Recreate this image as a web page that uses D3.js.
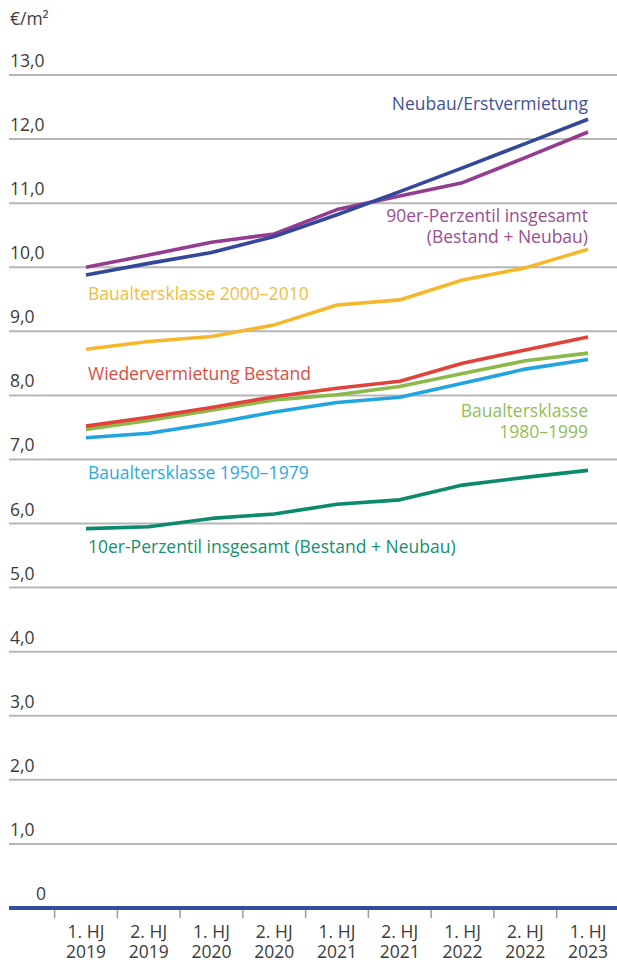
<!DOCTYPE html>
<html>
<head>
<meta charset="utf-8">
<script src="https://cdn.jsdelivr.net/npm/d3@7"></script>
<style>
  html, body { margin: 0; padding: 0; background: #fff; }
  svg { display: block; font-family: "Open Sans", "Noto Sans", sans-serif; }
</style>
</head>
<body>
<svg id="chart" width="617" height="964"></svg>
<script>
// Half-year periods
const periods = ["1. HJ|2019", "2. HJ|2019", "1. HJ|2020", "2. HJ|2020", "1. HJ|2021",
                 "2. HJ|2021", "1. HJ|2022", "2. HJ|2022", "1. HJ|2023"];

// Rent per m² (EUR) per series
const neubau        = [9.88, 10.06, 10.23, 10.48, 10.82, 11.18, 11.55, 11.93, 12.31];
const perzentil90   = [10.00, 10.19, 10.39, 10.52, 10.90, 11.11, 11.32, 11.71, 12.11];
const bak2000       = [8.72, 8.84, 8.92, 9.10, 9.41, 9.49, 9.80, 9.99, 10.28];
const wiederverm    = [7.52, 7.66, 7.81, 7.98, 8.11, 8.22, 8.50, 8.71, 8.91];
const bak1980       = [7.47, 7.61, 7.77, 7.93, 8.01, 8.14, 8.34, 8.54, 8.66];
const bak1950       = [7.34, 7.41, 7.56, 7.74, 7.89, 7.97, 8.19, 8.41, 8.56];
const perzentil10   = [5.92, 5.95, 6.08, 6.15, 6.30, 6.37, 6.60, 6.72, 6.83];

const yTicks = [0, 1, 2, 3, 4, 5, 6, 7, 8, 9, 10, 11, 12, 13];
const yTickLabels = ["0", "1,0", "2,0", "3,0", "4,0", "5,0", "6,0", "7,0", "8,0", "9,0", "10,0", "11,0", "12,0", "13,0"];

const seriesList = [
  { values: neubau,      line: "#33489b", text: "#3f5299", label: ["Neubau/Erstvermietung"], anchor: "end",   lx: 588, ly: 110 },
  { values: perzentil90, line: "#943d90", text: "#9a4d93", label: ["90er-Perzentil insgesamt", "(Bestand + Neubau)"], anchor: "end", lx: 588, ly: 222 },
  { values: bak2000,     line: "#f5b72b", text: "#f1bd3c", label: ["Baualtersklasse 2000–2010"], anchor: "start", lx: 88, ly: 300 },
  { values: wiederverm,  line: "#e2423a", text: "#dc4d43", label: ["Wiedervermietung Bestand"], anchor: "start", lx: 88, ly: 380 },
  { values: bak1980,     line: "#8cba4a", text: "#93bd5a", label: ["Baualtersklasse", "1980–1999"], anchor: "end", lx: 588, ly: 417 },
  { values: bak1950,     line: "#22a4e0", text: "#2fa9e0", label: ["Baualtersklasse 1950–1979"], anchor: "start", lx: 88, ly: 479 },
  { values: perzentil10, line: "#0c8a6c", text: "#16906f", label: ["10er-Perzentil insgesamt (Bestand + Neubau)"], anchor: "start", lx: 88, ly: 553 }
];

const FS = 17.5;
const svg = d3.select("#chart");

const x = d3.scaleBand().domain(periods).range([54.6, 619.4]).padding(0);
const xc = d => x(d) + x.bandwidth() / 2;
const y = d3.scaleLinear().domain([0, 13]).range([908, 75]);

// Horizontal gridlines with value labels above them
const grid = svg.append("g");
yTicks.filter(t => t > 0).forEach(t => {
  grid.append("line")
    .attr("x1", 9).attr("x2", 617)
    .attr("y1", y(t)).attr("y2", y(t))
    .attr("stroke", "#b6b6b6").attr("stroke-width", 2);
});
yTicks.forEach((t, i) => {
  grid.append("text")
    .attr("x", t === 0 ? 46 : 10)
    .attr("text-anchor", t === 0 ? "end" : "start")
    .attr("y", y(t) - 8)
    .attr("fill", "#3c3c3c")
    .attr("font-size", FS)
    .text(yTickLabels[i]);
});

// Unit label
svg.append("text").attr("x", 10).attr("y", 25)
  .attr("fill", "#3c3c3c").attr("font-size", FS).text("€/m²");

// X axis: tick marks at period boundaries, two-line labels at centers
const xAxis = svg.append("g");
periods.forEach(p => {
  xAxis.append("line")
    .attr("x1", x(p)).attr("x2", x(p))
    .attr("y1", 909).attr("y2", 918)
    .attr("stroke", "#9a9a9a").attr("stroke-width", 1.5);
  const parts = p.split("|");
  const t = xAxis.append("text").attr("text-anchor", "middle")
    .attr("fill", "#3c3c3c").attr("font-size", FS);
  t.append("tspan").attr("x", xc(p)).attr("y", 938).text(parts[0]);
  t.append("tspan").attr("x", xc(p)).attr("y", 958).text(parts[1]);
});

// Baseline
svg.append("line")
  .attr("x1", 9).attr("x2", 617)
  .attr("y1", y(0)).attr("y2", y(0))
  .attr("stroke", "#2f4e9f").attr("stroke-width", 4);

// Series lines (drawn bottom-up so the upper series stay on top)
const line = d3.line()
  .x((d, i) => xc(periods[i]))
  .y(d => y(d));

seriesList.slice().reverse().forEach(s => {
  svg.append("path")
    .datum(s.values)
    .attr("d", line)
    .attr("fill", "none")
    .attr("stroke", s.line)
    .attr("stroke-width", 3.6)
    .attr("stroke-linejoin", "round")
    .attr("stroke-linecap", "butt");
});

// Series labels
seriesList.forEach(s => {
  const t = svg.append("text")
    .attr("text-anchor", s.anchor)
    .attr("fill", s.text)
    .attr("font-size", FS);
  s.label.forEach((l, i) => {
    t.append("tspan").attr("x", s.lx).attr("y", s.ly + i * 21).text(l);
  });
});
</script>
</body>
</html>
